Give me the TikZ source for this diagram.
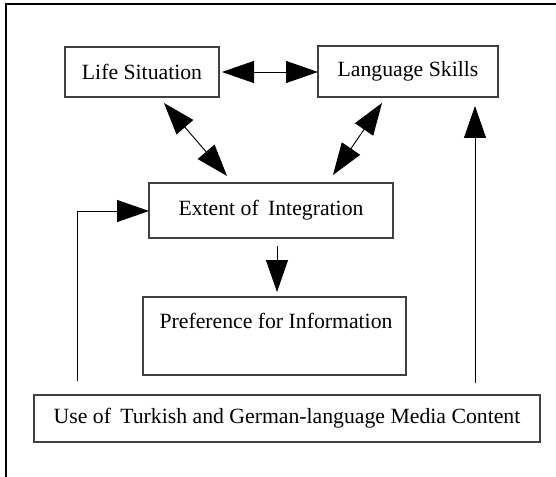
\documentclass[tikz,border=0pt]{standalone}
\usepackage{fontspec}
\setmainfont{Liberation Serif}
\usetikzlibrary{arrows.meta}
\begin{document}
\begin{tikzpicture}[x=0.75pt,y=-0.75pt,
  box/.style={draw=black!75,line width=0.8pt,rectangle,inner sep=0pt,
    font=\fontsize{16.3}{19}\selectfont},
  lbl/.style={inner sep=0pt,font=\fontsize{16.3}{19}\selectfont},
  frameline/.style={draw=black,line width=0.9pt},
  conn/.style={draw=black,line width=0.7pt},
  bigtip/.style={-{Triangle[length=24pt,width=16.5pt]}},
  bothtip/.style={{Triangle[length=24pt,width=16.5pt]}-{Triangle[length=24pt,width=16.5pt]}}]
\useasboundingbox (0,0) rectangle (556,477);
% frame
\coordinate (ftl) at (6,4);
\coordinate (ftr) at (556,4);
\coordinate (fbl) at (6,477);
\draw[frameline] (ftr) -- (ftl) -- (fbl);
% boxes
\node[box,minimum width=115.5pt,minimum height=37.5pt] (life) at (142,72) {Life Situation};
\node[box,minimum width=135pt,minimum height=38.25pt] (lang) at (408,71.5) {Language Skills};
\node[box,minimum width=183pt,minimum height=41.25pt] (ext) at (271,210.5) {Extent of\hspace{0.18em} Integration};
\node[box,minimum width=197.25pt,minimum height=58.5pt] (pref) at (274.5,336) {};
\node[lbl] (preft) at (276,321) {Preference for Information};
\node[box,minimum width=379.5pt,minimum height=35.25pt] (use) at (287,418.5) {Use of\hspace{0.18em} Turkish and German-language Media Content};
% connector end points
\coordinate (h1) at (222,72);
\coordinate (h2) at (318,72);
\coordinate (d1a) at (164,103);
\coordinate (d1b) at (227,176);
\coordinate (d2a) at (382,103);
\coordinate (d2b) at (333,175);
\coordinate (fa) at (77,381);
\coordinate (fb) at (77,211);
\coordinate (fc) at (149,211);
\coordinate (va) at (277,246);
\coordinate (vb) at (277,292);
\coordinate (ra) at (475,383);
\coordinate (rb) at (475,106);
% connectors
\draw[conn,bothtip] (h1) -- (h2);
\draw[conn,bothtip] (d1a) -- (d1b);
\draw[conn,bothtip] (d2a) -- (d2b);
\draw[conn,bigtip] (fa) -- (fb) -- (fc);
\draw[conn,bigtip] (va) -- (vb);
\draw[conn,bigtip] (ra) -- (rb);
\end{tikzpicture}
\end{document}
